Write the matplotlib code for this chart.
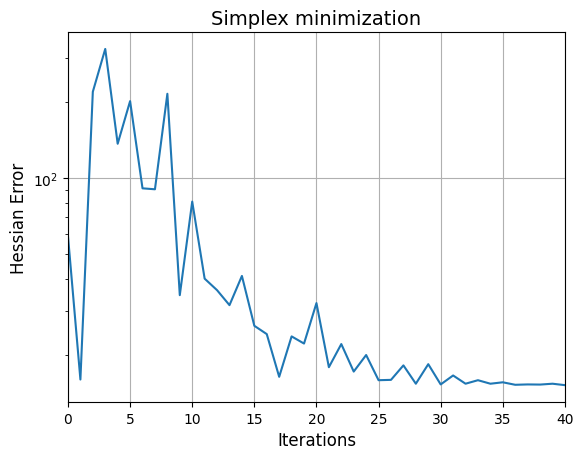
import matplotlib.pyplot as plt

# values (log scale)
iterations = list(range(0, 41))
hessian_error = [59.1, 16.0, 220, 325, 137, 202, 91.3, 90.5, 216, 34.5,
                 80.9, 40.1, 36.1, 31.5, 41.1, 26.1, 24.2, 16.4, 23.7, 22.2,
                 32.1, 17.9, 22.1, 17.2, 20.0, 15.9, 15.95, 18.2, 15.4, 18.4,
                 15.3, 16.6, 15.4, 15.9, 15.4, 15.6, 15.25, 15.3, 15.28, 15.4,
                 15.2]

fig = plt.figure(figsize=(5.83, 4.6), dpi=100)
ax = fig.add_axes([0.1166, 0.124, 0.8524, 0.804])
ax.plot(iterations, hessian_error)
ax.set_yscale('log')
ax.set_xlim(0, 40)
ax.grid(True)
ax.set_title("Simplex minimization", fontsize=14)
ax.set_xlabel("Iterations", fontsize=12)
ax.set_ylabel("Hessian Error", fontsize=12)
fig.savefig('out.png', dpi=100)
